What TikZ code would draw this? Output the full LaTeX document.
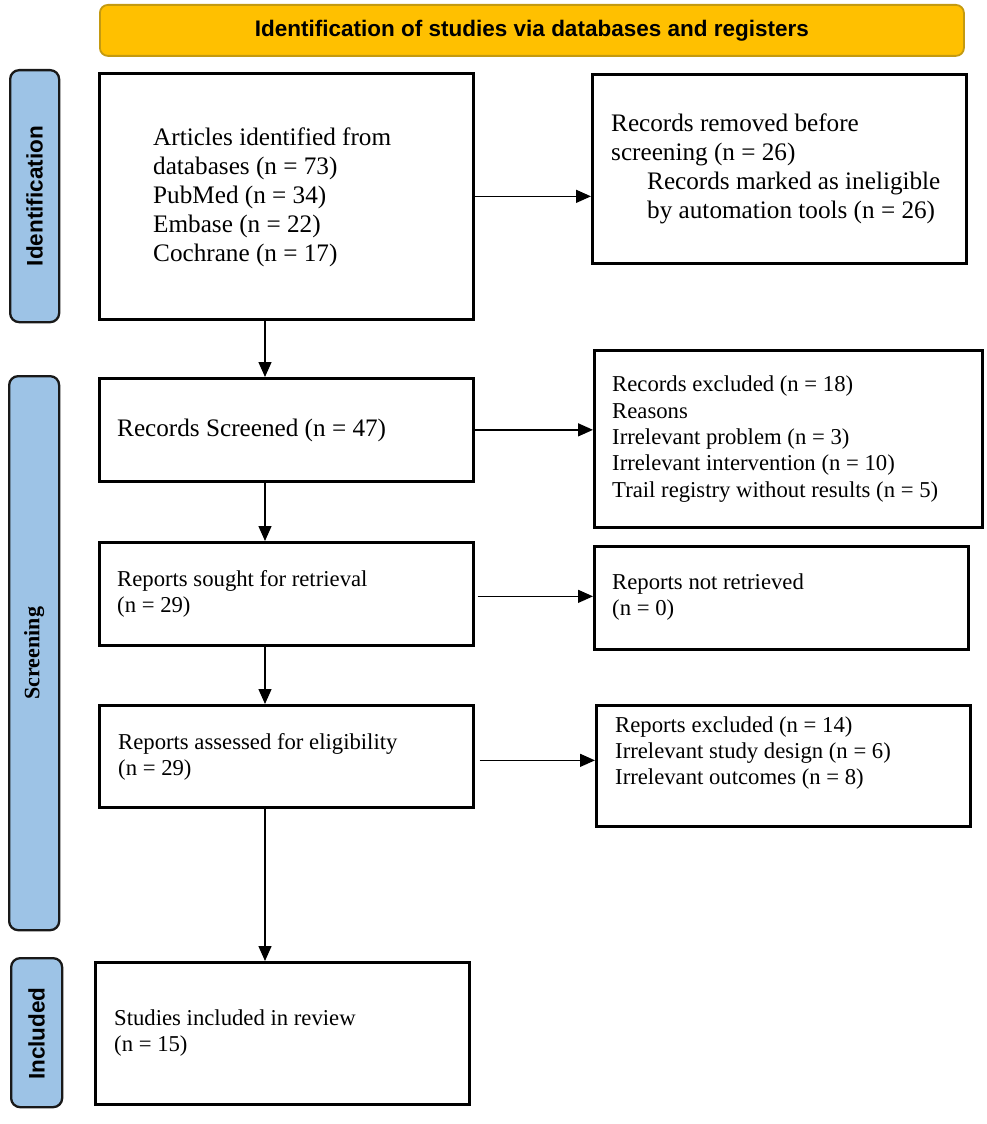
\documentclass[tikz,border=0pt]{standalone}
\usepackage{fontspec}
\setmainfont{Liberation Serif}
\setsansfont{Liberation Sans}
\usetikzlibrary{arrows.meta,calc}
\definecolor{hdrfill}{HTML}{FFC000}
\definecolor{hdrdraw}{HTML}{C49A10}
\definecolor{sidefill}{HTML}{9DC3E6}
\begin{document}
\begin{tikzpicture}[x=1pt,y=-1pt,
  box/.style={draw=black,line width=2.7pt,rectangle,inner sep=0pt,anchor=north west},
  big/.style={font=\fontsize{25.2}{29}\selectfont,align=left,anchor=west,inner sep=0pt},
  small/.style={font=\fontsize{22.7}{26.3}\selectfont,align=left,anchor=west,inner sep=0pt},
  side/.style={draw=black!90,fill=sidefill,line width=2.3pt,rounded corners=9pt,anchor=north west,inner sep=0pt},
  sidesans/.style={rotate=90,inner sep=0pt,font=\sffamily\bfseries\fontsize{22.5}{26}\selectfont},
  sideserif/.style={rotate=90,inner sep=0pt,font=\rmfamily\bfseries\fontsize{22}{25}\selectfont},
  arr/.style={line width=1.4pt,-{Triangle[length=15pt,width=13pt]}}]
\useasboundingbox (0,0) rectangle (986,1124);

% header
\node[draw=hdrdraw,fill=hdrfill,line width=1.8pt,rounded corners=8pt,
      minimum width=864,minimum height=51,anchor=north west,inner sep=0pt,
      font=\sffamily\bfseries\fontsize{22.5}{26}\selectfont] (hdr) at (99,4)
      {Identification of studies via databases and registers};

% side bars
\node[side,minimum width=49,minimum height=252] (idbar) at (9,69) {};
\node[sidesans] (idlbl) at (idbar.center) {Identification};
\node[side,minimum width=50,minimum height=554] (scbar) at (8,375) {};
\node[sideserif] (sclbl) at (scbar.center) {Screening};
\node[side,minimum width=51,minimum height=149] (inbar) at (10,957) {};
\node[sidesans] (inlbl) at ($(inbar.center)+(0,1)$) {Included};

% boxes
\node[box,minimum width=374,minimum height=246] (A) at (98,72) {};
\node[big] (Atxt) at ($(A.west)+(55,1)$) {Articles identified from\\databases (n = 73)\\PubMed (n = 34)\\Embase (n = 22)\\Cochrane (n = 17)};

\node[box,minimum width=374,minimum height=189] (B) at (591,73) {};
\node[big] (Btxt) at (611,169) {Records removed before\\screening (n = 26)\\\hspace*{36pt}Records marked as ineligible\\\hspace*{36pt}by automation tools (n = 26)};

\node[box,minimum width=374,minimum height=103] (C) at (98,377) {};
\node[big] (Ctxt) at (117,430) {Records Screened (n = 47)};

\node[box,minimum width=388,minimum height=177] (D) at (593,349) {};
\node[small] (Dtxt) at (612,439) {Records excluded (n = 18)\\Reasons\\Irrelevant problem (n = 3)\\Irrelevant intervention (n = 10)\\Trail registry without results (n = 5)};

\node[box,minimum width=374,minimum height=103] (E) at (98,541) {};
\node[small] (Etxt) at (117,594) {Reports sought for retrieval\\(n = 29)};

\node[box,minimum width=374,minimum height=103] (F) at (593,545) {};
\node[small] (Ftxt) at (612,597) {Reports not retrieved\\(n = 0)};

\node[box,minimum width=374,minimum height=102] (G) at (98,704) {};
\node[small] (Gtxt) at (118,757) {Reports assessed for eligibility\\(n = 29)};

\node[box,minimum width=374,minimum height=121] (H) at (595,704) {};
\node[small] (Htxt) at (615,753) {Reports excluded (n = 14)\\Irrelevant study design (n = 6)\\Irrelevant outcomes (n = 8)};

\node[box,minimum width=374,minimum height=142] (I) at (94,961) {};
\node[small] (Itxt) at (114,1033) {Studies included in review\\(n = 15)};

% connectors
\coordinate (colx) at (265,0);
\draw[arr] (A.east) -- (A.east -| B.west);
\draw[arr] (C.east) -- (C.east -| D.west);
\draw[arr] ([xshift=3pt,yshift=-2.5pt]E.east) -- ([yshift=-2.5pt]E.east -| F.west);
\draw[arr] ([xshift=5pt,yshift=-4pt]G.east) -- ([yshift=-4pt]G.east -| H.west);
\draw[arr] (A.south -| colx) -- (C.north -| colx);
\draw[arr] (C.south -| colx) -- (E.north -| colx);
\draw[arr] (E.south -| colx) -- (G.north -| colx);
\draw[arr] (G.south -| colx) -- (I.north -| colx);
\end{tikzpicture}
\end{document}
